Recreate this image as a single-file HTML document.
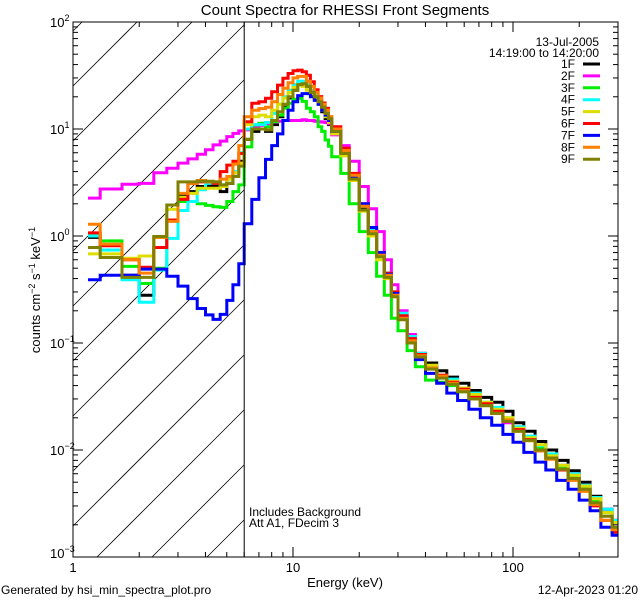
<!DOCTYPE html>
<html><head><meta charset="utf-8"><style>
html,body{margin:0;padding:0;background:#fff;width:640px;height:600px;overflow:hidden;}
svg{display:block;font-family:"Liberation Sans",sans-serif;}
</style></head><body>
<svg id="chart" width="640" height="600" viewBox="0 0 640 600" xmlns="http://www.w3.org/2000/svg">
<rect width="640" height="600" fill="#fff"/>
<text x="345" y="15" font-size="15" text-anchor="middle">Count Spectra for RHESSI Front Segments</text>
<defs><clipPath id="plotclip"><rect x="73" y="22" width="545" height="535"/></clipPath></defs>
<g id="hatch"></g>
<g id="series" clip-path="url(#plotclip)"></g>
<g id="axes"></g>
<text transform="translate(40,290) rotate(-90)" font-size="13" text-anchor="middle">counts cm<tspan dy="-5" font-size="9">−2</tspan><tspan dy="5"> s</tspan><tspan dy="-5" font-size="9">−1</tspan><tspan dy="5"> keV</tspan><tspan dy="-5" font-size="9">−1</tspan></text>
<text x="345" y="587" font-size="13" text-anchor="middle">Energy (keV)</text>
<text x="1" y="594" font-size="12">Generated by hsi_min_spectra_plot.pro</text>
<text x="638" y="594" font-size="12" text-anchor="end">12-Apr-2023 01:20</text>
<text x="249" y="516" font-size="12">Includes Background</text>
<text x="249" y="527" font-size="12">Att A1, FDecim 3</text>
<text x="599" y="46" font-size="12" text-anchor="end">13-Jul-2005</text>
<text x="599" y="57" font-size="12" text-anchor="end">14:19:00 to 14:20:00</text>
<g id="legend"></g>
</svg>
<script>
const edges=[1.17,1.33,1.67,2,2.33,2.67,3,3.33,3.67,4,4.33,4.67,5,5.33,5.67,6,6.5,7,7.5,8,8.5,9,9.5,10,10.5,11,11.5,12,12.5,13,13.5,14,14.5,15,16.5,18,20,22,24,26,28,30,33,36,40,45,50,56,63,71,80,90,100,112,126,141,158,178,200,224,251,282,300];
const labels=["1F","2F","3F","4F","5F","6F","7F","8F","9F"];
const colors=["#000000","#ff00ff","#00ee00","#00ffff","#dddd00","#ff0000","#0000ff","#ff8000","#808000"];
const s1F=[0.97,0.74,0.43,0.28,0.78,1.41,2.37,2.6,2.9,2.95,2.95,2.6,3.1,3.9,5.0, 8,9.5,10,9.5,11,13,16,19.5,23,26,27,25,22,19.5,17,14.5,12.5,11, 9,5.8,3.4,1.8, 1.15,0.68,0.44,0.29, 0.18,0.11,0.08,0.065,0.055, 0.048,0.042,0.036,0.031,0.028,0.023, 0.018,0.015,0.012,0.0100,0.0080,0.0064,0.0050,0.0037,0.0028,0.0022];
const s2F=[2.26,2.75,3.04,3.1,3.9,4.3,4.8,5.25,5.8,6.4,7.1,7.7,8.5,9.1,9.6, 9.8,10.3,10.8,11.2,11.6,11.8,12,12,12,12,12.2,12,12,11.8,11.7,11.6,11.5,11.2, 8.8,7.0,5.0,2.9, 1.8,1.1,0.6,0.35, 0.2,0.12,0.08,0.06,0.05, 0.044,0.037,0.031,0.027,0.022,0.018, 0.0155,0.013,0.0105,0.0088,0.0072,0.006,0.0047,0.0036,0.0028,0.0022];
const s3F=[1.04,0.9,0.52,0.36,0.50,1.38,2.1,2.1,2.0,1.93,1.88,1.85,2.1,2.6,3.0, 6.8,10.9,11.3,10.5,11.7,13.5,15.6,17.4,19,19.4,18.1,15.6,14.5,13,10.5,9.5,7.9,6.9, 5.5,3.85,2.0,1.1, 0.7,0.42,0.28,0.17, 0.13,0.085,0.06,0.045,0.043, 0.040,0.035,0.030,0.026,0.022,0.019, 0.0155,0.0125,0.0105,0.0088,0.0068,0.0056,0.0045,0.0034,0.0026,0.0021];
const s4F=[1.0,0.74,0.39,0.24,0.48,0.95,1.73,2.1,2.7,3.1,3.1,3.0,3.4,4.0,6.0, 10,11,11,11.5,14,17,20,23,26,28,28,26,23,20.5,18,16,14,12.5, 10,6.2,3.6,1.9, 1.15,0.7,0.45,0.3, 0.19,0.115,0.08,0.06,0.05, 0.046,0.038,0.034,0.028,0.025,0.020, 0.0165,0.0135,0.011,0.0092,0.0072,0.006,0.0047,0.0036,0.0028,0.0022];
const s5F=[0.68,0.68,0.62,0.65,0.97,1.78,2.3,2.5,2.8,2.8,2.8,2.9,3.4,3.9,4.8, 11,13,13.5,13,15,17,19.5,22,24.5,26,25,23,21,19,17,15,13,11.5, 9,5.6,3.3,1.7, 1.0,0.6,0.4,0.27, 0.17,0.105,0.078,0.062,0.05, 0.044,0.038,0.033,0.028,0.024,0.020, 0.016,0.013,0.0112,0.0088,0.0072,0.0058,0.0046,0.0035,0.0026,0.0021];
const s6F=[1.07,0.81,0.60,0.51,0.78,1.41,2.2,3.1,3.2,3.2,3.1,4.0,4.6,5.0,5.9, 11.7,17.4,18,19.4,22.3,25.7,29.8,33,35,35.5,34.3,31.8,27.7,23.3,20.1,17.5,15.6,13, 10.5,6.6,3.85,2.0, 1.2,0.7,0.45,0.3, 0.18,0.11,0.078,0.058,0.05, 0.043,0.037,0.031,0.027,0.023,0.019, 0.0155,0.0125,0.0098,0.0084,0.0065,0.0054,0.0042,0.003,0.0022,0.0017];
const s7F=[0.39,0.43,0.43,0.49,0.49,0.42,0.34,0.26,0.21,0.183,0.166,0.185,0.25,0.35,0.55, 1.3,2.2,3.5,5.2,7.0,9.0,12,15,18,20.5,21.4,21.4,20,18.5,17,15,13.5,12, 9.5,6.2,3.6,2.0, 1.2,0.7,0.44,0.29, 0.17,0.1,0.07,0.052,0.042, 0.034,0.029,0.024,0.020,0.017,0.014, 0.0118,0.0095,0.0077,0.0065,0.0052,0.0043,0.0034,0.0027,0.0019,0.0016];
const s8F=[1.29,0.84,0.60,0.45,0.97,1.37,2.5,3.1,3.3,3.2,3.2,3.4,3.6,4.7,7.0, 13,15,15.5,16,18,21,24,27,30,31,31,28,25,22,19.5,17,15,13, 10,6.3,3.7,1.9, 1.1,0.66,0.43,0.28, 0.17,0.105,0.076,0.058,0.049, 0.042,0.036,0.030,0.026,0.022,0.019, 0.015,0.0122,0.0098,0.0082,0.0066,0.0052,0.0041,0.0031,0.0022,0.0018];
const s9F=[0.78,0.63,0.41,0.41,0.99,1.95,3.2,3.2,3.25,3.25,3.2,3.0,3.1,3.6,4.5, 8,10,10,9.8,12,14.5,17,20,23,26,26.5,25,22,20,18,16,14,12.5, 9.5,5.9,3.4,1.75, 1.05,0.64,0.41,0.27, 0.165,0.1,0.074,0.057,0.047, 0.041,0.035,0.030,0.026,0.022,0.0185, 0.015,0.0123,0.0100,0.0084,0.0066,0.0054,0.0043,0.0032,0.0024,0.0019];
const allSeries=[s1F,s2F,s3F,s4F,s5F,s6F,s7F,s8F,s9F];
const yTickExp=[2,1,0,-1,-2,-3];
const xTickVals=[1,10,100];
const xTickText=["1","10","100"];

const X0=73,X1=618,Y0=22,Y1=557,XDEC=220,YDEC=107;
const HX1=244;
const NS="http://www.w3.org/2000/svg";
function xs(e){return X0+XDEC*Math.log10(e);}
function ys(v){return Y0+(2-Math.log10(v))*YDEC;}
function mk(tag,attrs,parent){const el=document.createElementNS(NS,tag);for(const k in attrs)el.setAttribute(k,attrs[k]);parent.appendChild(el);return el;}

const hatch=document.getElementById('hatch');
for(let c=86-55*4;c<Y1+HX1;c+=55){
  const xa=X0+Math.max(0,c-Y1);
  const xb=X0+Math.min(HX1-X0,c-Y0);
  if(xa>=xb)continue;
  const ln=mk('line',{x1:xa,y1:c-(xa-X0),x2:xb,y2:c-(xb-X0),stroke:'#000','stroke-width':0.8},hatch);
  
  
}
const axes=document.getElementById('axes');
const vl=mk('line',{x1:xs(6),y1:Y0,x2:xs(6),y2:Y1,stroke:'#000','stroke-width':1},axes);



const sg=document.getElementById('series');
allSeries.forEach((vals,si)=>{
  let d='';
  for(let i=0;i<vals.length;i++){
    const y=ys(vals[i]).toFixed(1);
    const xa=xs(edges[i]).toFixed(1),xb=Math.min(X1,xs(edges[i+1])).toFixed(1);
    d+=(i===0?'M':'L')+xa+','+y+'L'+xb+','+y;
  }
  const p=mk('path',{d:d,fill:'none',stroke:colors[si],'stroke-width':3,'stroke-linejoin':'miter'},sg);
  
  
});

const fr=mk('rect',{x:X0,y:Y0,width:X1-X0,height:Y1-Y0,fill:'none',stroke:'#000','stroke-width':1},axes);


for(let dec=0;dec<3;dec++){
  for(let m=1;m<10;m++){
    const e=m*Math.pow(10,dec); if(e>300)break;
    const x=xs(e); const L=(m===1)?10:5;
    const t1=mk('line',{x1:x,y1:Y1,x2:x,y2:Y1-L,stroke:'#000'},axes);
    
    
    const t2=mk('line',{x1:x,y1:Y0,x2:x,y2:Y0+L,stroke:'#000'},axes);
    
    
  }
}
xTickVals.forEach((v,i)=>{
  const t=mk('text',{x:xs(v),y:572,'font-size':13,'text-anchor':'middle'},axes);
  t.textContent=xTickText[i];
  
  
});
for(let ex=-3;ex<2;ex++){
  for(let m=1;m<10;m++){
    const v=m*Math.pow(10,ex); const y=ys(v); const L=(m===1)?10:5;
    const a=mk('line',{x1:X0,y1:y,x2:X0+L,y2:y,stroke:'#000'},axes);
    
    
    const b=mk('line',{x1:X1,y1:y,x2:X1-L,y2:y,stroke:'#000'},axes);
    
    
  }
}
yTickExp.forEach(ex=>{
  const y=ys(Math.pow(10,ex));
  const t=mk('text',{x:50,y:(ex===-3?y+1:y+5),'font-size':13},axes);
  
  
  t.appendChild(document.createTextNode('10'));
  const sp=mk('tspan',{dy:-6,'font-size':9},t);
  sp.textContent=(ex<0?'−':'')+Math.abs(ex);
});
const lg=document.getElementById('legend');
labels.forEach((lab,i)=>{
  const y=64+i*11.9;
  const t=mk('text',{x:575,y:y+4,'font-size':12,'text-anchor':'end'},lg);
  t.textContent=lab;
  
  
  const l=mk('line',{x1:583,y1:y,x2:600,y2:y,stroke:colors[i],'stroke-width':3},lg);
  
  
});
</script>
</body></html>
